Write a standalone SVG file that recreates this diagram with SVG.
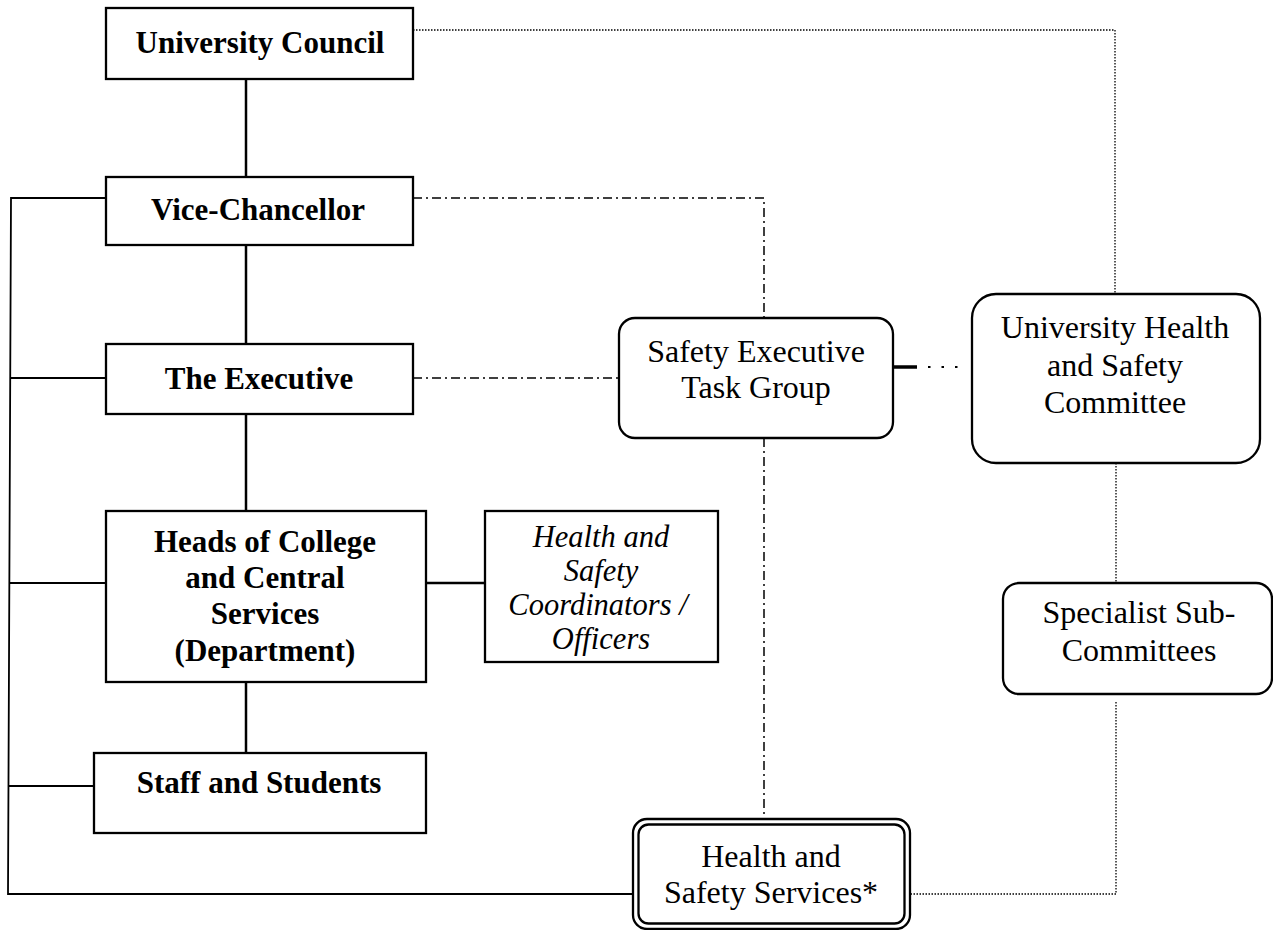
<svg xmlns="http://www.w3.org/2000/svg" width="1273" height="930" viewBox="0 0 1273 930">
<style>
.box{fill:#fff;stroke:#000;stroke-width:2.3}
.t{font-family:"Liberation Serif","Times New Roman",serif;font-size:32px;fill:#000;text-anchor:middle}
.b{font-weight:bold;font-size:31px}
.i{font-style:italic;font-size:30.5px}
.solid{stroke:#000;stroke-width:2.5;fill:none}
.thin{stroke:#000;stroke-width:1.8;fill:none}
.dot{stroke:#000;stroke-width:1.3;stroke-dasharray:1.5 1.5;fill:none}
.dd{stroke:#000;stroke-width:1.5;stroke-dasharray:9 4 2 4;fill:none}
</style>
<rect width="1273" height="930" fill="#fff"/>
<g id="connectors">
<line class="solid" x1="246" y1="79" x2="246" y2="177"/>
<line class="solid" x1="246" y1="245" x2="246" y2="344"/>
<line class="solid" x1="246" y1="414" x2="246" y2="511"/>
<line class="solid" x1="246" y1="682" x2="246" y2="753"/>
<line class="solid" x1="426" y1="583" x2="485" y2="583"/>
<polyline class="thin" points="106,198 11,198 8,894 633,894"/>
<line class="thin" x1="10" y1="378" x2="106" y2="378"/>
<line class="thin" x1="10" y1="583" x2="106" y2="583"/>
<line class="thin" x1="9" y1="786" x2="94" y2="786"/>
<polyline class="dot" points="413,30 1115,30 1115,294"/>
<polyline class="dd" points="413,198 764,198 764,318"/>
<line class="dd" x1="413" y1="378" x2="619" y2="378"/>
<line class="dd" x1="764" y1="438" x2="764" y2="819"/>
<line class="solid" x1="893" y1="367" x2="917" y2="367" style="stroke-width:3.5"/>
<line x1="928" y1="367" x2="958" y2="367" style="stroke:#000;stroke-width:2;stroke-dasharray:2.5 11"/>
<line class="dot" x1="1116" y1="463" x2="1116" y2="583"/>
<polyline class="dot" points="1116,702 1116,894 910,894"/>
</g>
<g id="university-council">
<rect class="box" x="106" y="8" width="307" height="71"/>
<text class="t b" x="260" y="53">University Council</text>
</g>
<g id="vice-chancellor">
<rect class="box" x="106" y="177" width="307" height="68"/>
<text class="t b" x="258" y="220">Vice-Chancellor</text>
</g>
<g id="the-executive">
<rect class="box" x="106" y="344" width="307" height="70"/>
<text class="t b" x="259" y="389">The Executive</text>
</g>
<g id="heads">
<rect class="box" x="106" y="511" width="320" height="171"/>
<text class="t b" x="265" y="552">Heads of College</text>
<text class="t b" x="265" y="588">and Central</text>
<text class="t b" x="265" y="624">Services</text>
<text class="t b" x="265" y="661">(Department)</text>
</g>
<g id="coordinators">
<rect class="box" x="485" y="511" width="233" height="151"/>
<text class="t i" x="601" y="547">Health and</text>
<text class="t i" x="601" y="581">Safety</text>
<text class="t i" x="598" y="615">Coordinators /</text>
<text class="t i" x="601" y="649">Officers</text>
</g>
<g id="staff-students">
<rect class="box" x="94" y="753" width="332" height="80"/>
<text class="t b" x="259" y="793">Staff and Students</text>
</g>
<g id="setg">
<rect class="box" x="619" y="318" width="274" height="120" rx="16"/>
<text class="t" x="756" y="362">Safety Executive</text>
<text class="t" x="756" y="398">Task Group</text>
</g>
<g id="uhsc">
<rect class="box" x="972" y="294" width="288" height="169" rx="24"/>
<text class="t" x="1115" y="338">University Health</text>
<text class="t" x="1115" y="376">and Safety</text>
<text class="t" x="1115" y="413">Committee</text>
</g>
<g id="specialist">
<rect class="box" x="1003" y="583" width="269" height="111" rx="16"/>
<text class="t" x="1139" y="623">Specialist Sub-</text>
<text class="t" x="1139" y="661">Committees</text>
</g>
<g id="hss">
<rect class="box" x="633" y="819" width="277" height="110" rx="14"/>
<rect class="box" x="638.5" y="824.5" width="266" height="99" rx="10"/>
<text class="t" x="771" y="867">Health and</text>
<text class="t" x="771" y="903">Safety Services*</text>
</g>
</svg>
